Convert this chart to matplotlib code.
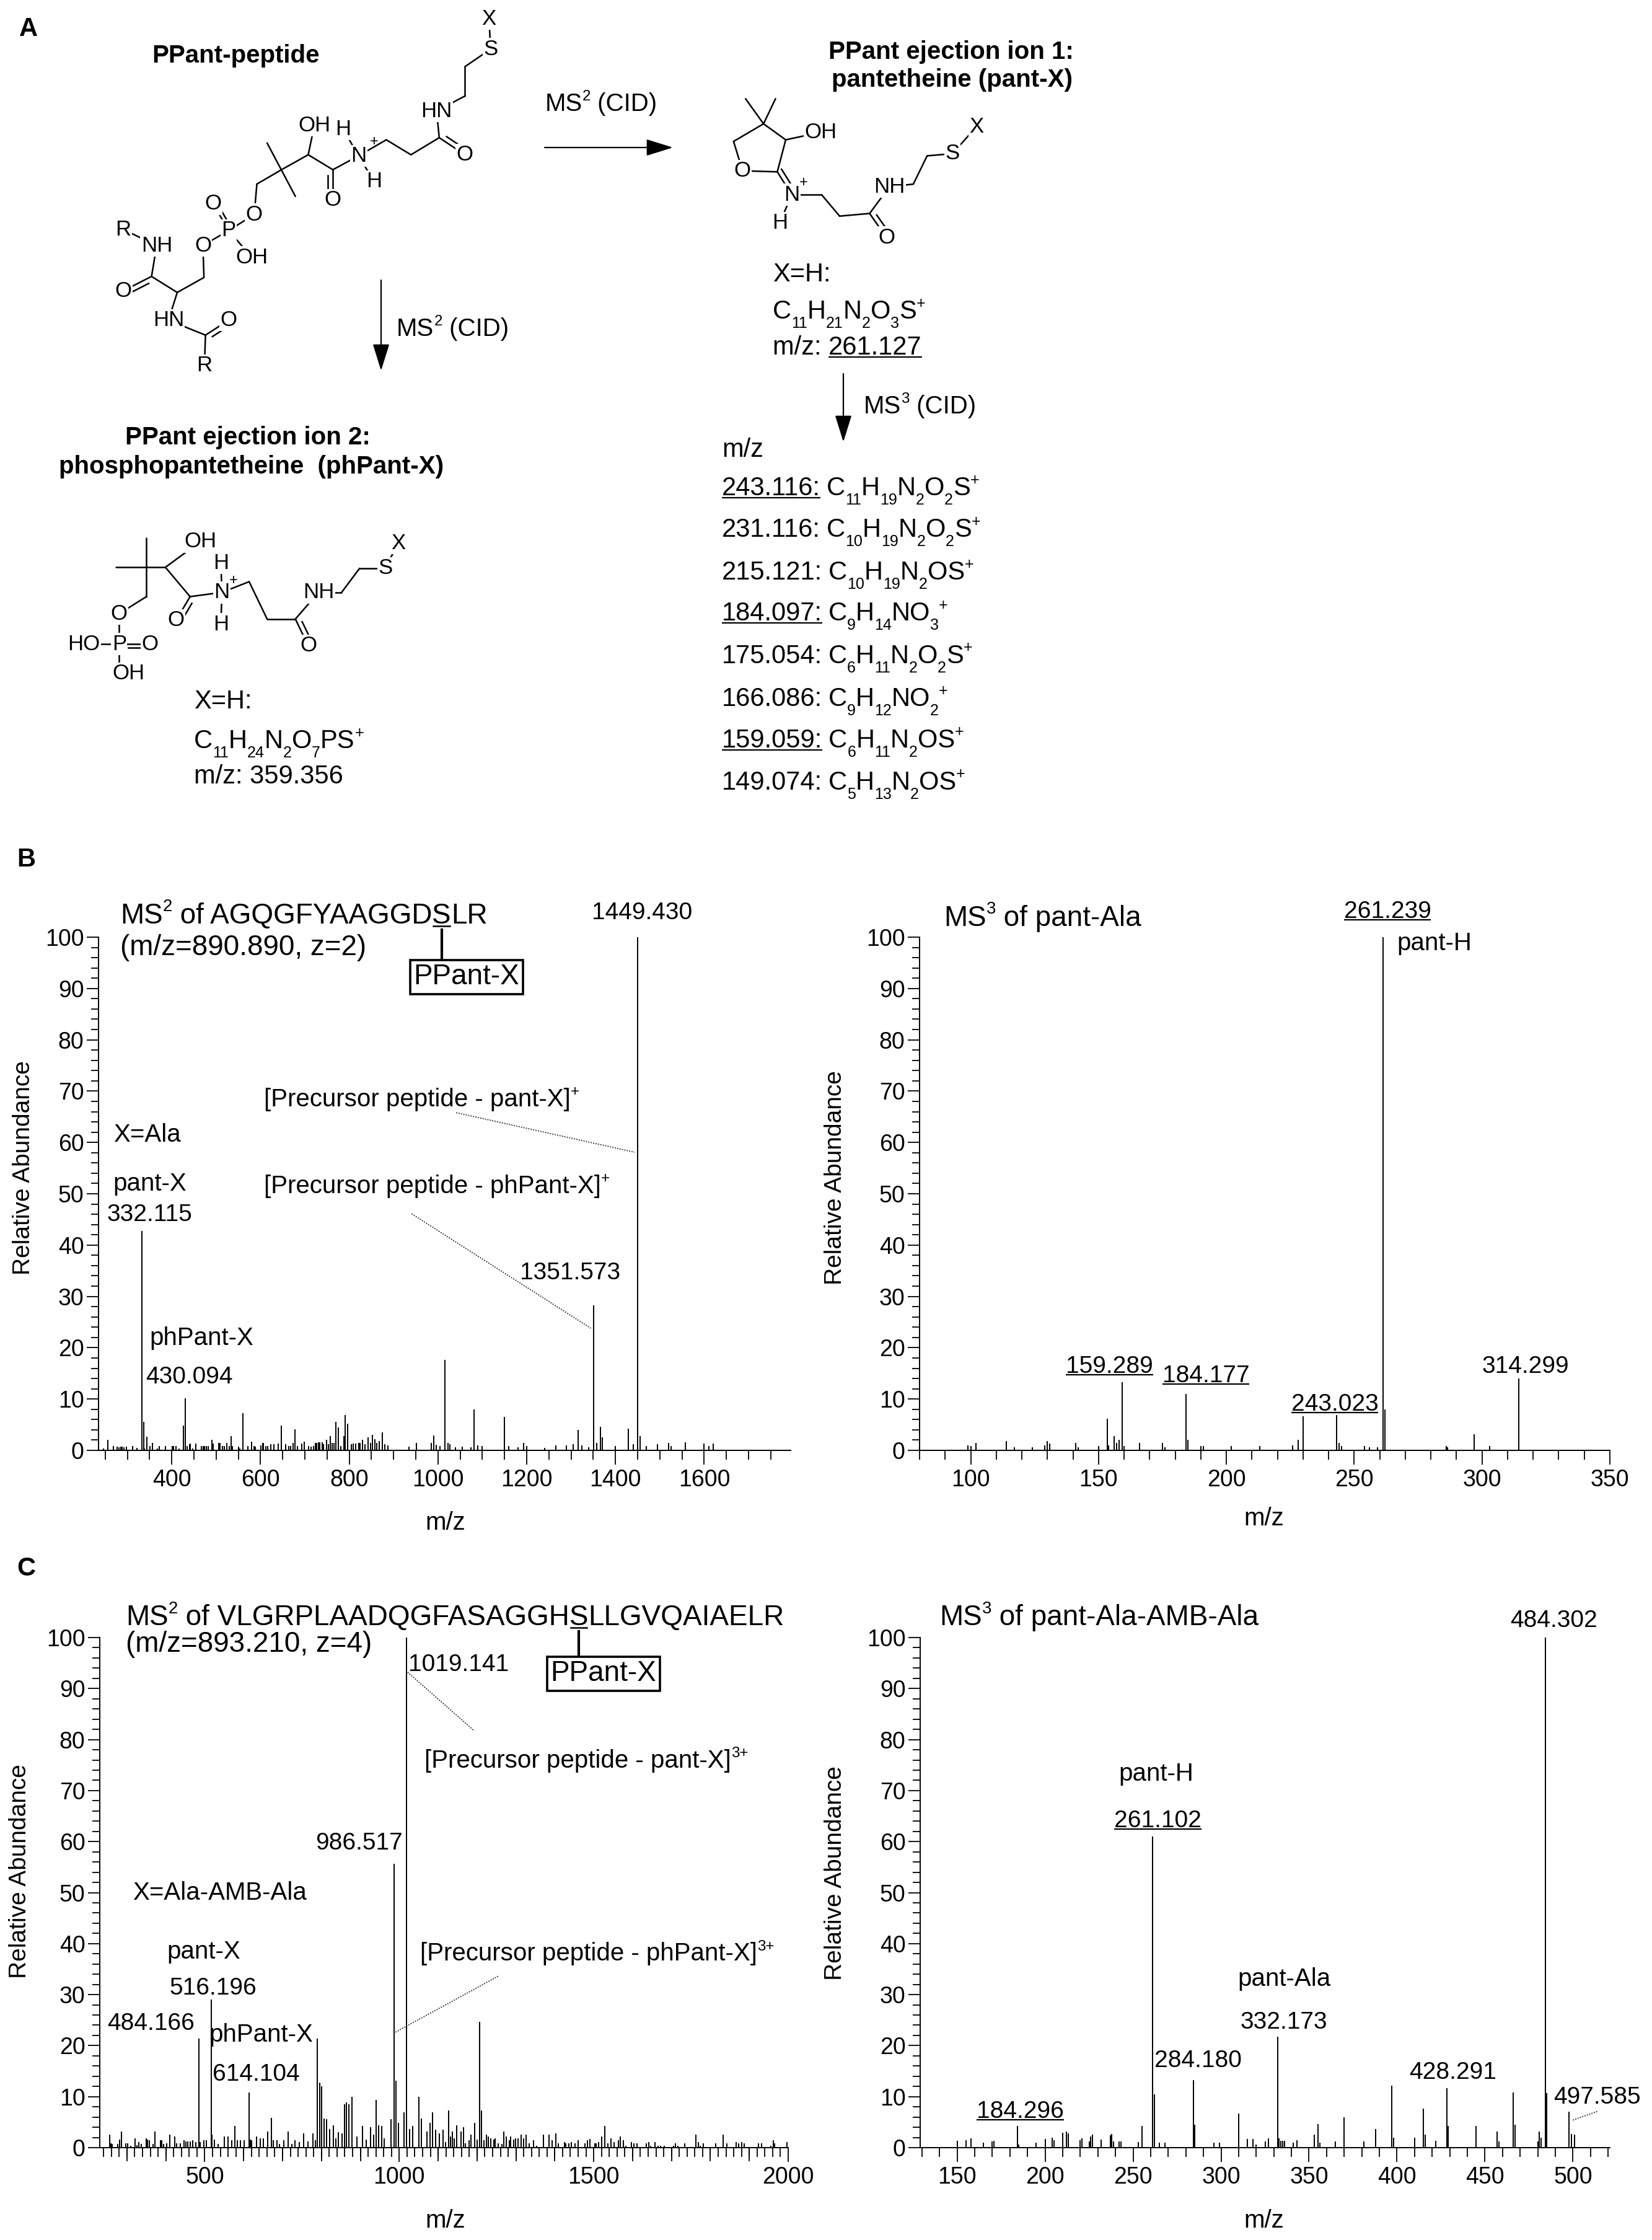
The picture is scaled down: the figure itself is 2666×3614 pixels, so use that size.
import math
import re
import numpy as np
import matplotlib
matplotlib.use('Agg')
import matplotlib.pyplot as plt

plt.rcParams['font.family'] = ['Liberation Sans', 'DejaVu Sans']

# ---------------- data ----------------
b1_mz = [246, 256.5, 268, 277, 281, 285, 288.5, 292, 298, 312, 322, 332.115, 337, 339, 343.5, 350.6, 356, 367, 372,
         386, 401, 404, 410, 416.5, 426, 430.094, 435, 440, 442, 447, 454, 467, 470.6, 474, 477.6, 482, 490, 493,
         506, 509, 515, 519, 524, 529, 534, 537, 550, 553, 560, 571, 580, 586, 589, 601, 605, 607, 612, 616.5,
         623.5, 630.6, 640, 647, 657, 663.5, 668, 674, 677.6, 683, 693, 698, 708, 714, 720, 724, 727, 731, 734,
         739, 742.6, 749.6, 753, 757.6, 762, 765.6, 770, 775, 781, 788, 791, 796, 804.7, 809, 814, 821, 825, 830,
         836, 842, 848, 852, 858, 862, 868, 874, 880, 887, 935, 952, 985, 990, 996, 1005, 1015, 1022, 1027, 1040,
         1055, 1075, 1082, 1090, 1100, 1150, 1160, 1180, 1193, 1200, 1240, 1265, 1290, 1305, 1316, 1325, 1340,
         1351.573, 1358, 1366, 1370, 1400, 1429, 1440, 1449.430, 1455, 1470, 1495, 1520, 1525, 1558, 1600, 1610, 1620]
b1_int = [0.4, 2.1, 0.8, 0.7, 0.6, 0.7, 0.7, 0.6, 0.7, 0.8, 0.5, 42.8, 5.6, 0.4, 2.6, 0.8, 1.5, 0.4, 0.8,
          0.8, 0.8, 0.8, 0.8, 0.4, 4.8, 10.2, 0.8, 1.2, 1.3, 0.4, 1.3, 0.8, 0.8, 0.8, 0.8, 0.8, 2.1, 1.3,
          1.4, 1.5, 0.8, 0.8, 1.5, 0.8, 2.8, 0.8, 0.7, 0.4, 7.2, 0.8, 1.7, 0.8, 0.7, 1.0, 1.4, 1.5, 0.8, 0.8,
          1.2, 1.2, 1.3, 4.8, 1.2, 0.8, 0.8, 1.5, 4.1, 0.8, 1.3, 1.7, 0.8, 0.7, 0.8, 1.4, 1.4, 1.6, 1.6,
          1.6, 1.2, 2.1, 1.2, 2.8, 1.4, 1.5, 5.6, 4.5, 0.8, 2.8, 6.9, 5.2, 1.2, 1.3, 1.3, 1.4, 1.5, 2.0,
          1.2, 2.5, 1.5, 3.0, 2.2, 1.5, 1.8, 3.5, 1.2, 1.0, 0.7, 1.4, 1.5, 2.9, 1.1, 0.9, 17.6, 1.5, 1.2, 0.6,
          0.7, 0.6, 8.0, 1.0, 0.9, 6.5, 0.8, 0.6, 1.5, 0.8, 0.5, 1.0, 1.0, 1.2, 4.0, 1.0, 0.6,
          28.3, 1.5, 4.6, 2.5, 0.8, 4.2, 1.2, 100, 2.8, 0.8, 1.2, 1.5, 0.8, 1.6, 1.3, 0.8, 1.3]

b2_mz = [99, 100, 102, 114, 117, 124, 129, 130, 131, 141, 142, 150, 153.5, 154, 156, 157, 158, 159.289, 160,
         166, 175, 176, 184.177, 185, 190, 191, 202, 213, 226, 228, 230, 243.023, 244, 245, 254, 256, 259,
         261.239, 262, 286, 286.5, 297, 303, 314.299]
b2_int = [1.0, 0.8, 1.5, 1.8, 0.6, 0.6, 1.0, 1.8, 1.3, 1.4, 0.6, 0.8, 6.2, 1.0, 2.8, 1.5, 2.0, 13.3, 0.9,
          1.4, 1.4, 0.6, 11.0, 2.0, 0.8, 0.8, 0.9, 0.9, 1.0, 2.0, 6.7, 6.9, 1.4, 0.8, 0.9, 0.6, 0.6,
          100, 8.0, 0.9, 0.6, 3.1, 0.9, 14.0]

c1_mz = [256, 259, 262, 276.5, 281, 285, 297, 302, 310, 320.6, 325, 331, 337, 350, 353, 357.6, 366.5, 372,
         386.5, 390, 394, 402, 410, 423.5, 427.6, 437, 447, 452, 457, 462, 469, 477, 484.166, 488, 497, 504,
         516.196, 519, 525, 535, 551, 559, 569, 577.6, 584, 591, 602, 614.104, 617, 621, 633.5, 642, 650, 662,
         671, 676.5, 685, 692, 703, 714.7, 724, 732, 743, 754.7, 764.7, 777.6, 785, 789, 796, 801, 806, 813.5,
         820.6, 830.6, 837, 844, 853, 860, 863.5, 870.6, 879, 891, 906, 914.7, 926.5, 933.5, 940, 947, 955,
         962, 978, 986.517, 992, 998, 1012, 1019.141, 1026.5, 1035, 1050, 1057, 1070.6, 1079, 1085,
         1093, 1103, 1113, 1119, 1127, 1131, 1136.5, 1142, 1147, 1159, 1165, 1170.6, 1179, 1185, 1194, 1200,
         1206, 1212, 1217.6, 1223.5, 1229, 1235, 1244, 1247, 1254.7, 1263.5, 1269, 1275, 1283.5, 1287, 1294,
         1299, 1305, 1313, 1319, 1326.5, 1334, 1344.7, 1353, 1370.6, 1385, 1393, 1403, 1409, 1425, 1428,
         1436.5, 1443, 1452, 1460, 1477.6, 1483.5, 1490, 1503, 1506, 1512, 1521, 1529, 1536.5, 1544, 1553,
         1563.5, 1569, 1576.5, 1582, 1597, 1603, 1612, 1635, 1641, 1646, 1658, 1665, 1672, 1680.6, 1705,
         1710.6, 1716.5, 1734, 1762, 1769, 1773.5, 1782, 1813.5, 1832, 1843, 1866.5, 1872, 1881, 1887,
         1923.5, 1931, 1955.9, 1962, 1965, 1997.6]
c1_int = [2.6, 0.9, 0.7, 0.7, 1.6, 3.1, 0.8, 0.8, 0.4, 1.8, 0.5, 1.1, 0.7, 1.8, 1.6, 1.5, 0.7, 3.1,
          1.5, 1.5, 0.7, 0.8, 2.6, 2.2, 0.9, 0.8, 1.5, 1.2, 1.2, 1.2, 1.5, 1.1, 21.4, 1.1, 1.4, 1.5,
          29.0, 2.6, 1.6, 0.7, 2.2, 2.2, 1.5, 4.2, 1.4, 1.5, 1.5, 10.8, 1.6, 1.4, 2.2, 1.8, 1.8, 3.1,
          5.8, 1.5, 1.5, 0.7, 1.4, 3.1, 0.7, 1.5, 1.1, 2.8, 1.2, 2.8, 1.5, 21.4, 12.7, 12.0, 5.7, 5.6,
          3.6, 4.4, 1.8, 3.0, 2.8, 8.5, 8.9, 8.5, 10.0, 2.2, 4.2, 1.6, 4.0, 2.6, 9.3, 4.4, 4.2,
          1.8, 5.6, 55.6, 13.1, 4.9, 6.9, 100, 3.6, 4.2, 10.0, 5.7, 3.1, 4.8, 6.9,
          3.5, 2.8, 3.5, 1.1, 7.3, 2.2, 3.1, 1.8, 4.4, 3.1, 4.0, 0.9, 1.5, 2.6, 4.9, 1.6,
          24.7, 7.3, 1.5, 2.6, 2.2, 1.8, 1.6, 1.8, 0.9, 0.7, 3.1, 2.2, 1.5, 2.2, 1.6,
          1.8, 1.8, 2.6, 1.8, 2.6, 0.9, 1.5, 0.4, 2.6, 2.6, 1.5, 2.8, 0.8, 1.1, 0.9,
          0.8, 1.1, 0.8, 1.5, 0.8, 1.5, 1.7, 0.8, 0.9, 1.1, 2.2, 4.2, 0.8, 1.8, 1.1,
          1.5, 2.2, 1.5, 0.4, 1.1, 0.8, 0.8, 0.8, 1.1, 0.4, 1.1, 0.4, 0.4, 0.4, 0.4,
          0.8, 0.4, 0.8, 2.6, 1.1, 0.4, 0.8, 0.8, 2.6, 0.8, 1.1, 0.8, 1.1, 0.8,
          0.8, 0.8, 0.4, 1.5, 0.8, 1.1]

c2_mz = [150, 155, 158, 165, 170, 171, 184.296, 185, 195, 200, 204, 205, 210, 212, 213, 220, 221, 225, 226, 227,
         232, 237, 238, 239, 242, 243, 253, 255, 261.102, 262, 265, 268, 284.180, 285, 296, 299, 310, 315, 318,
         320, 325, 327, 332.173, 333, 334, 335, 336, 341, 343, 353, 355, 356, 365, 370, 381, 388, 397, 398,
         410, 415, 416, 422, 428.291, 429, 445, 457, 458, 466, 467, 480, 481, 482, 484.302, 485, 497.585, 499, 501]
c2_int = [1.3, 1.5, 1.8, 1.0, 1.2, 1.3, 4.3, 0.6, 1.0, 1.7, 1.9, 1.5, 2.9, 3.2, 2.8, 1.5, 1.8, 1.2, 2.2, 2.5,
          1.6, 2.4, 2.7, 1.2, 1.2, 1.2, 1.1, 4.2, 61.0, 10.5, 1.0, 1.0, 13.2, 4.5, 1.0, 1.0, 6.7, 1.7, 1.7,
          0.6, 1.2, 1.8, 21.8, 1.8, 1.3, 1.3, 1.3, 1.0, 1.5, 2.5, 4.6, 1.0, 1.2, 6.0, 1.2, 3.7, 12.1, 1.9,
          2.0, 7.7, 2.5, 1.3, 11.7, 4.2, 4.2, 3.2, 1.2, 10.8, 4.5, 1.2, 3.2, 2.0, 100, 10.7, 7.1, 2.7, 2.6]

yticks_major = list(range(0, 101, 10))
list_mz = ['243.116:', '231.116:', '215.121:', '184.097:', '175.054:', '166.086:', '159.059:', '149.074:']
list_formula = ['C11H19N2O2S+', 'C10H19N2O2S+', 'C10H19N2OS+', 'C9H14NO3+',
                'C6H11N2O2S+', 'C9H12NO2+', 'C6H11N2OS+', 'C5H13N2OS+']
list_underlined = [True, False, False, True, False, False, True, False]

# ---------------- figure ----------------
W, H = 2666, 3614
fig = plt.figure(figsize=(W / 100, H / 100), dpi=100)
ov = fig.add_axes([0, 0, 1, 1])
ov.set_xlim(0, W)
ov.set_ylim(H, 0)
ov.axis('off')
R = fig.canvas.get_renderer()
inv = ov.transData.inverted()


def em(fs):
    return fs * 100 / 72


def ul(t, lw=1.6, frac=0.13):
    bb = t.get_window_extent(R)
    yd = bb.y0 + frac * em(t.get_fontsize())
    (xa, ya), (xb, _) = inv.transform([(bb.x0, yd), (bb.x1, yd)])
    ov.plot([xa, xb], [ya, ya], color='k', lw=lw, zorder=5, solid_capstyle='butt')


def right_edge(t):
    bb = t.get_window_extent(R)
    return inv.transform((bb.x1, bb.y0))[0]


def txt(x, y, s, fs=30, ha='left', va='center', **kw):
    return ov.text(x, y, s, fontsize=fs, ha=ha, va=va, **kw)


def rich(x, yb, parts, fs=30, ha='left', **kw):
    """parts: list of (string, kind) kind in n / sub / sup; yb is baseline (px, down)."""
    e = em(fs)
    objs = []
    cx = x
    for s, kind in parts:
        if kind == 'n':
            f, dy = fs, 0.0
        elif kind == 'sub':
            f, dy = fs * 0.6, 0.36 * e
        else:
            f, dy = fs * 0.6, -0.42 * e
        t = ov.text(cx, yb + dy, s, fontsize=f, ha='left', va='baseline', **kw)
        x1 = right_edge(t)
        objs.append(t)
        cx = x1
    if ha == 'center':
        sh = (cx - x) / 2
        for t in objs:
            t.set_x(t.get_position()[0] - sh)
        cx -= sh
    return objs, cx


def formula_parts(s):
    parts = []
    for tok in re.findall(r'\d+|\+|[^\d+]+', s):
        if tok == '+':
            parts.append((tok, 'sup'))
        elif tok.isdigit():
            parts.append((tok, 'sub'))
        else:
            parts.append((tok, 'n'))
    return parts


def arrow(p0, p1):
    ov.annotate('', xy=p1, xytext=p0,
                arrowprops=dict(arrowstyle='-|>,head_width=0.28,head_length=0.9', lw=1.6, color='k',
                                shrinkA=0, shrinkB=0, mutation_scale=30))


# ---- chemical structures (panel A) ----
def P1(x, y):
    return (x * 0.829, y * 0.861)


def P2(x, y):
    return (1150 + x * 0.967, y * 0.861)


def bond(a, b, double=False, side=1, off=8, sh=0.18):
    ov.plot([a[0], b[0]], [a[1], b[1]], color='k', lw=1.8, zorder=2, solid_capstyle='round')
    if double:
        dx, dy = b[0] - a[0], b[1] - a[1]
        L = math.hypot(dx, dy)
        nx, ny = -dy / L * off * side, dx / L * off * side
        ov.plot([a[0] + dx * sh + nx, b[0] + nx], [a[1] + dy * sh + ny, b[1] + ny],
                color='k', lw=1.8, zorder=2)


def lab(p, s, fs=25, ha='center'):
    ov.text(p[0], p[1], s, fontsize=fs, ha=ha, va='center', zorder=4,
            bbox=dict(boxstyle='square,pad=0.04', fc='white', ec='none'))


def plus(p, fs=17):
    ov.text(p[0], p[1], '+', fontsize=fs, ha='center', va='center', zorder=4)


# structure 1: PPant-peptide
s1 = {k: P1(*v) for k, v in dict(
    X=(952, 35), S=(955, 92), c1=(905, 125), c2=(905, 180), HN=(850, 208), c3=(855, 258), O1=(905, 290),
    c4=(800, 290), c5=(752, 262), N=(698, 292), Ha=(668, 242), Hb=(728, 340), c6=(648, 318), O2=(648, 375),
    c7=(600, 290), OH=(612, 235), c8=(548, 318), m1=(520, 268), m2=(575, 368), c9=(500, 345), O3=(495, 402),
    P=(445, 432), Od=(415, 382), POH=(490, 482), O4=(395, 460), c10=(397, 520), c11=(345, 548),
    c12=(295, 518), O5=(240, 545), NH=(305, 460), R1=(240, 430), HN2=(328, 600), c13=(400, 628),
    O6=(445, 600), R2=(398, 685)).items()}
for a, b in [('X', 'S'), ('S', 'c1'), ('c1', 'c2'), ('c2', 'HN'), ('HN', 'c3'), ('c3', 'c4'), ('c4', 'c5'),
             ('c5', 'N'), ('N', 'Ha'), ('N', 'Hb'), ('N', 'c6'), ('c6', 'c7'), ('c7', 'OH'), ('c7', 'c8'),
             ('m1', 'm2'), ('c8', 'c9'), ('c9', 'O3'), ('O3', 'P'), ('P', 'POH'), ('P', 'O4'), ('O4', 'c10'),
             ('c10', 'c11'), ('c11', 'c12'), ('c12', 'NH'), ('NH', 'R1'), ('c11', 'HN2'), ('HN2', 'c13'),
             ('c13', 'R2')]:
    bond(s1[a], s1[b])
bond(s1['c3'], s1['O1'], double=True, side=-1)
bond(s1['c6'], s1['O2'], double=True, side=1)
bond(s1['P'], s1['Od'], double=True, side=1, off=6)
bond(s1['c12'], s1['O5'], double=True, side=-1)
bond(s1['c13'], s1['O6'], double=True, side=1)
for k, s in [('X', 'X'), ('S', 'S'), ('HN', 'HN'), ('O1', 'O'), ('N', 'N'), ('Ha', 'H'), ('Hb', 'H'),
             ('O2', 'O'), ('OH', 'OH'), ('O3', 'O'), ('P', 'P'), ('Od', 'O'), ('POH', 'OH'), ('O4', 'O'),
             ('O5', 'O'), ('NH', 'NH'), ('R1', 'R'), ('HN2', 'HN'), ('O6', 'O'), ('R2', 'R')]:
    lab(s1[k], s)
plus(P1(728, 266))

# structure 3: phosphopantetheine
s3 = {k: P1(*v) for k, v in dict(
    Cq=(285, 1063), Me1=(225, 1063), Me2=(285, 1008), CH2=(285, 1118), O7=(232, 1150), P=(232, 1207),
    HO=(163, 1207), O8=(292, 1207), OHb=(232, 1247), OHl=(250, 1262), CH=(322, 1063), OH5=(390, 1015),
    C14=(370, 1118), O9=(343, 1162), N=(432, 1110), Ha=(430, 1055), Hb=(430, 1170), c15=(485, 1090),
    c16=(520, 1160), C17=(575, 1160), O10=(600, 1210), NH=(620, 1110), c18=(665, 1110), c19=(700, 1065),
    S=(750, 1065), X=(775, 1018)).items()}
for a, b in [('Cq', 'Me1'), ('Cq', 'Me2'), ('Cq', 'CH2'), ('CH2', 'O7'), ('O7', 'P'), ('P', 'HO'),
             ('P', 'OHb'), ('Cq', 'CH'), ('CH', 'OH5'), ('CH', 'C14'), ('C14', 'N'), ('N', 'Ha'), ('N', 'Hb'),
             ('N', 'c15'), ('c15', 'c16'), ('c16', 'C17'), ('C17', 'NH'), ('NH', 'c18'), ('c18', 'c19'),
             ('c19', 'S'), ('S', 'X')]:
    bond(s3[a], s3[b])
bond(s3['P'], s3['O8'], double=True, side=1, off=6, sh=0.3)
bond(s3['C14'], s3['O9'], double=True, side=-1)
bond(s3['C17'], s3['O10'], double=True, side=-1)
for k, s in [('O7', 'O'), ('P', 'P'), ('HO', 'HO'), ('O8', 'O'), ('OHl', 'OH'), ('OH5', 'OH'), ('O9', 'O'),
             ('N', 'N'), ('Ha', 'H'), ('Hb', 'H'), ('O10', 'O'), ('NH', 'NH'), ('S', 'S'), ('X', 'X')]:
    lab(s3[k], s)
plus(P1(455, 1088))

# structure 2: pantetheine
s2 = {k: P2(*v) for k, v in dict(
    Cq=(85, 232), Ma=(55, 185), Mb=(105, 185), CH2=(35, 265), O=(50, 320), C2=(108, 322), CH=(122, 262),
    OH=(180, 248), N=(132, 365), Hn=(112, 418), c20=(182, 365), c21=(212, 405), C22=(262, 400),
    O11=(290, 445), NH=(295, 350), c23=(335, 345), c24=(358, 292), S=(400, 288), X=(440, 238)).items()}
for a, b in [('Cq', 'Ma'), ('Cq', 'Mb'), ('Cq', 'CH2'), ('CH2', 'O'), ('O', 'C2'), ('C2', 'CH'),
             ('CH', 'Cq'), ('CH', 'OH'), ('N', 'Hn'), ('N', 'c20'), ('c20', 'c21'), ('c21', 'C22'),
             ('C22', 'NH'), ('NH', 'c23'), ('c23', 'c24'), ('c24', 'S'), ('S', 'X')]:
    bond(s2[a], s2[b])
bond(s2['C2'], s2['N'], double=True, side=-1, sh=0.0)
bond(s2['C22'], s2['O11'], double=True, side=-1)
for k, s in [('O', 'O'), ('OH', 'OH'), ('N', 'N'), ('Hn', 'H'), ('O11', 'O'), ('NH', 'NH'), ('S', 'S'),
             ('X', 'X')]:
    lab(s2[k], s)
plus(P2(152, 343))

# ---- panel A texts ----
B29 = 0.36 * em(29)
B30 = 0.36 * em(30)
txt(46, 47, 'A', fs=30, ha='center', fontweight='bold')
txt(380, 90, 'PPant-peptide', fs=29, ha='center', fontweight='bold')
rich(970, 164 + B29, [('MS', 'n'), ('2', 'sup'), (' (CID)', 'n')], fs=29, ha='center')
arrow((879, 238), (1086, 238))
arrow((615, 452), (615, 598))
rich(640, 527 + B29, [('MS', 'n'), ('2', 'sup'), (' (CID)', 'n')], fs=29)
txt(400, 706, 'PPant ejection ion 2:', fs=29, ha='center', fontweight='bold')
txt(406, 753, 'phosphopantetheine  (phPant-X)', fs=29, ha='center', fontweight='bold')
txt(313, 1132, 'X=H:')
rich(313, 1192 + B30, formula_parts('C11H24N2O7PS+'))
txt(313, 1253, 'm/z: 359.356')

txt(1535, 84, 'PPant ejection ion 1:', fs=29, ha='center', fontweight='bold')
txt(1537, 129, 'pantetheine (pant-X)', fs=29, ha='center', fontweight='bold')
txt(1247, 443, 'X=H:')
rich(1247, 499 + B30, formula_parts('C11H21N2O3S+'))
t = txt(1247, 561, 'm/z: ')
t2 = txt(right_edge(t), 561, '261.127')
ul(t2)
arrow((1361, 603), (1361, 713))
rich(1394, 652 + B29, [('MS', 'n'), ('3', 'sup'), (' (CID)', 'n')], fs=29)
txt(1165, 726, 'm/z')
list_y = [784, 851, 920, 986, 1055, 1124, 1191, 1259]
for yy, m, f, u in zip(list_y, list_mz, list_formula, list_underlined):
    base = yy + B30
    t = txt(1165, base, m, va='baseline')
    if u:
        ul(t)
    rich(right_edge(t) + 10, base, formula_parts(f))


# ---------------- spectra ----------------
def make_spec(rect, mz, inten, xlim, major, minor, mid=None):
    x0, x1, yt, yb = rect
    ax = fig.add_axes([x0 / W, 1 - yb / H, (x1 - x0) / W, (yb - yt) / H])
    ax.set_facecolor('none')
    ax.vlines(mz, 0, inten, colors='black', lw=1.4)
    ax.set_xlim(*xlim)
    ax.set_ylim(0, 100)
    for s in ['top', 'right']:
        ax.spines[s].set_visible(False)
    for s in ['left', 'bottom']:
        ax.spines[s].set_linewidth(1.4)
    ax.set_xticks(np.arange(math.ceil(xlim[0] / major) * major, xlim[1] + 0.01, major))
    ax.set_xticks(np.arange(math.ceil(xlim[0] / minor) * minor, xlim[1] + 0.01, minor), minor=True)
    ax.set_yticks(yticks_major)
    ax.set_yticks(np.arange(0, 101, 2), minor=True)
    ax.tick_params(which='both', direction='out', width=1.3, labelsize=27)
    ax.tick_params(axis='y', which='major', length=14, pad=3)
    ax.tick_params(axis='y', which='minor', length=9)
    ax.tick_params(axis='x', which='major', length=16.5, pad=5)
    ax.tick_params(axis='x', which='minor', length=11)
    if mid is not None:
        hpx = yb - yt
        for xv in np.arange(math.ceil(xlim[0] / mid) * mid, xlim[1] + 0.01, mid):
            if xv % major:
                ax.plot([xv, xv], [0, -15 * 1.389 / hpx], color='k', lw=1.3, clip_on=False,
                        transform=ax.get_xaxis_transform())
    return ax


def d2o(ax, x, y):
    return inv.transform(ax.transData.transform((x, y)))


def atext(ax, x, y, s, fs=28, ha='left', va='center', underline=False):
    t = ax.text(x, y, s, fontsize=fs, ha=ha, va=va, clip_on=False)
    if underline:
        ul(t)
    return t


def arich(ax, x, y, parts, fs=29, ha='left'):
    ox, oy = d2o(ax, x, y)
    return rich(ox, oy + 0.36 * em(fs), parts, fs=fs, ha=ha)


def dotted(ax, p0, p1):
    ax.plot([p0[0], p1[0]], [p0[1], p1[1]], color='#222222', lw=1.3, ls=(0, (1, 1.2)), clip_on=False)


def seq_title(ax, x, y, before, s_letter, after, box_y):
    objs, _ = arich(ax, x, y, [('MS', 'n'), ('2', 'sup'), (' of ' + before, 'n'), (s_letter, 'n'),
                               (after, 'n')], fs=33)
    st = objs[3]
    bb = st.get_window_extent(R)
    yd = bb.y0 + 0.13 * em(33)
    (xa, ya), (xb, _) = inv.transform([(bb.x0 + 2, yd), (bb.x1 - 2, yd)])
    ov.plot([xa, xb], [ya, ya], color='k', lw=1.8, zorder=5)
    xc = (xa + xb) / 2
    ov.plot([xc, xc], [ya + 6, box_y], color='k', lw=3.0, zorder=3)
    ov.text(xc + 40, box_y, 'PPant-X', fontsize=33, ha='center', va='center', zorder=6,
            bbox=dict(boxstyle='square,pad=0.12', fc='white', ec='black', lw=2.6))


# B left
axb1 = make_spec((159, 1276, 1512, 2340), b1_mz, b1_int, (235, 1795), 200, 50)
seq_title(axb1, 284, 104.7, 'AGQGFYAAGGD', 'S', 'LR', 1576)
atext(axb1, 284, 98.0, '(m/z=890.890, z=2)', fs=33)
atext(axb1, 1460, 104.7, '1449.430', ha='center')
arich(axb1, 608, 68.8, [('[Precursor peptide - pant-X]', 'n'), ('+', 'sup')])
dotted(axb1, (1041, 65.8), (1443, 58.1))
atext(axb1, 269, 61.5, 'X=Ala', fs=29)
atext(axb1, 267, 51.9, 'pant-X', fs=29)
arich(axb1, 608, 51.9, [('[Precursor peptide - phPant-X]', 'n'), ('+', 'sup')])
atext(axb1, 254, 45.9, '332.115')
dotted(axb1, (940.6, 46.1), (1344.5, 23.8))
atext(axb1, 1184, 34.6, '1351.573')
atext(axb1, 350, 21.8, 'phPant-X', fs=29)
atext(axb1, 341, 14.3, '430.094')

# B right
axb2 = make_spec((1484, 2598, 1512, 2340), b2_mz, b2_int, (80, 350), 50, 10)
arich(axb2, 89.5, 104.2, [('MS', 'n'), ('3', 'sup'), (' of pant-Ala', 'n')], fs=33)
atext(axb2, 263, 104.9, '261.239', ha='center', underline=True)
atext(axb2, 266.7, 98.8, 'pant-H', fs=29)
atext(axb2, 154.2, 16.25, '159.289', ha='center', underline=True)
atext(axb2, 192, 14.5, '184.177', ha='center', underline=True)
atext(axb2, 242.4, 8.9, '243.023', ha='center', underline=True)
atext(axb2, 317, 16.25, '314.299', ha='center')

# C left
axc1 = make_spec((161, 1272, 2642, 3465), c1_mz, c1_int, (230, 2000), 500, 20, mid=100)
seq_title(axc1, 297, 104.4, 'VLGRPLAADQGFASAGGH', 'S', 'LLGVQAIAELR', 2700)
atext(axc1, 297, 98.7, '(m/z=893.210, z=4)', fs=33)
atext(axc1, 1024, 94.7, '1019.141')
dotted(axc1, (1021.6, 93.2), (1193, 81.7))
arich(axc1, 1065, 76.2, [('[Precursor peptide - pant-X]', 'n'), ('3+', 'sup')])
atext(axc1, 896, 59.6, '986.517', ha='center')
atext(axc1, 315, 49.9, 'X=Ala-AMB-Ala', fs=29)
atext(axc1, 403, 38.4, 'pant-X', fs=29)
arich(axc1, 1054, 38.4, [('[Precursor peptide - phPant-X]', 'n'), ('3+', 'sup')])
dotted(axc1, (1254, 33.6), (982, 22.3))
atext(axc1, 409.5, 31.2, '516.196')
atext(axc1, 250, 24.3, '484.166')
atext(axc1, 511, 22.1, 'phPant-X', fs=29)
atext(axc1, 520, 14.3, '614.104')

# C right
axc2 = make_spec((1485, 2598, 2642, 3465), c2_mz, c2_int, (129, 521), 50, 10)
arich(axc2, 140, 104.4, [('MS', 'n'), ('3', 'sup'), (' of pant-Ala-AMB-Ala', 'n')], fs=33)
atext(axc2, 489, 103.3, '484.302', ha='center')
atext(axc2, 263, 73.3, 'pant-H', fs=29, ha='center')
atext(axc2, 264, 64, '261.102', ha='center', underline=True)
atext(axc2, 262, 17, '284.180')
atext(axc2, 335.8, 33, 'pant-Ala', fs=29, ha='center')
atext(axc2, 335.8, 24.5, '332.173', ha='center')
atext(axc2, 431.8, 14.7, '428.291', ha='center')
atext(axc2, 489, 9.9, '497.585')
dotted(axc2, (500, 5.4), (513.8, 7.1))
atext(axc2, 186, 7, '184.296', ha='center', underline=True)

# axis labels & panel letters
txt(42, 1387, 'B', fs=30, ha='center', fontweight='bold')
txt(42, 2531, 'C', fs=30, ha='center', fontweight='bold')
for (x, y) in [(38, 1884), (1348, 1900), (32, 3019), (1348, 3022)]:
    txt(x, y, 'Relative Abundance', fs=28, ha='center', rotation=90)
for (x, y) in [(719, 2457), (2040, 2450), (719, 3583), (2040, 3583)]:
    txt(x, y, 'm/z', fs=29, ha='center')

fig.savefig('out.png', dpi=100)
